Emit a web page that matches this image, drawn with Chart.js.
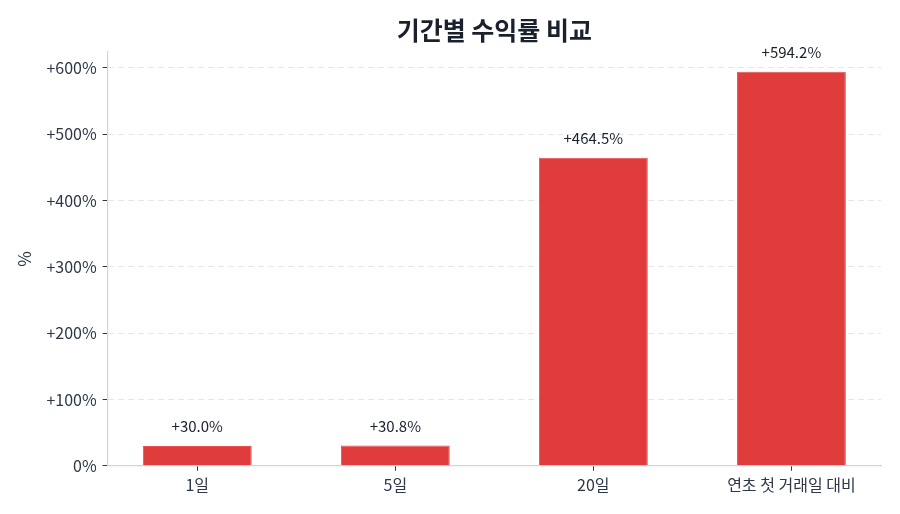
<!DOCTYPE html>
<html lang="ko">
<head>
<meta charset="utf-8">
<title>기간별 수익률 비교</title>
<script src="https://cdn.jsdelivr.net/npm/chart.js@4.4.1/dist/chart.umd.min.js"></script>
<style>
  html, body { margin: 0; padding: 0; background: #fff; }
  #wrap { width: 900px; height: 514px; }
</style>
</head>
<body>
<div id="wrap"><canvas id="chart" width="900" height="514"></canvas></div>
<script>
// data
const categories = ['1일', '5일', '20일', '연초 첫 거래일 대비'];
const returns = [30.0, 30.8, 464.5, 594.2];
const yTicks = [0, 100, 200, 300, 400, 500, 600];

const FONT = '"Noto Sans CJK KR", "Noto Sans", sans-serif';
const TEXT = '#2d3748';

const fmtPct = v => (v > 0 ? '+' : '') + v.toFixed(1) + '%';

// value labels above bars
const valueLabels = {
  id: 'valueLabels',
  afterDatasetsDraw(chart) {
    const { ctx } = chart;
    const meta = chart.getDatasetMeta(0);
    ctx.save();
    ctx.font = '15px ' + FONT;
    ctx.fillStyle = '#1a202c';
    ctx.textAlign = 'center';
    ctx.textBaseline = 'bottom';
    meta.data.forEach((bar, i) => {
      ctx.fillText(fmtPct(returns[i]), bar.x, bar.y - 12);
    });
    ctx.restore();
  }
};

new Chart(document.getElementById('chart').getContext('2d'), {
  type: 'bar',
  data: {
    datasets: [{
      data: returns.map((v, i) => ({ x: i, y: v })),
      backgroundColor: '#e03c3c',
      borderColor: '#e85050',
      borderWidth: 1,
      barPercentage: 0.55,
      categoryPercentage: 1
    }]
  },
  options: {
    responsive: false,
    animation: false,
    layout: { padding: { left: 10, right: 19, top: 4, bottom: 14 } },
    plugins: {
      legend: { display: false },
      tooltip: { enabled: false },
      title: {
        display: true,
        text: '기간별 수익률 비교',
        fullSize: false,
        color: '#1a202c',
        font: { family: FONT, size: 25, weight: 'bold' },
        padding: { top: 11, bottom: 7 }
      }
    },
    scales: {
      x: {
        type: 'linear',
        min: -0.4525,
        max: 3.4525,
        offset: false,
        afterBuildTicks: s => { s.ticks = categories.map((_, i) => ({ value: i })); },
        ticks: {
          callback: v => categories[v],
          color: TEXT,
          font: { family: FONT, size: 16 },
          padding: 5,
          maxRotation: 0,
          autoSkip: false
        },
        grid: { offset: false, drawOnChartArea: false, drawTicks: true, tickLength: 5, tickColor: '#2d3748' },
        border: { color: '#cbd5e0', width: 1.2 }
      },
      y: {
        min: 0,
        max: 624,
        afterBuildTicks: s => { s.ticks = yTicks.map(v => ({ value: v })); },
        ticks: {
          callback: v => (v > 0 ? '+' : '') + v + '%',
          color: TEXT,
          font: { family: FONT, size: 16 },
          padding: 6
        },
        grid: {
          color: '#e5e7eb',
          lineWidth: 1,
          tickLength: 5,
          tickColor: '#2d3748',
          tickBorderDash: []
        },
        border: { color: '#cbd5e0', width: 1.2, dash: [6, 4] },
        title: {
          display: true,
          text: '%',
          color: TEXT,
          font: { family: FONT, size: 17 },
          padding: { bottom: 6 }
        }
      }
    }
  },
  plugins: [valueLabels]
});
</script>
</body>
</html>
